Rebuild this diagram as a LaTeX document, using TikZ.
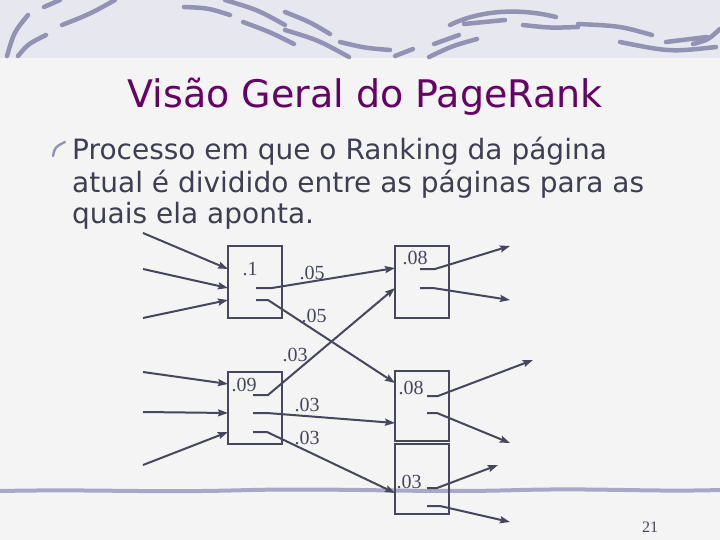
\documentclass[tikz,border=0pt]{standalone}
\usepackage{fontspec}
\setmainfont{Liberation Serif}
\newfontfamily\slidefont{DejaVu Sans}
\usepackage{tikz}
\usetikzlibrary{arrows.meta, positioning, calc}
\definecolor{titlepurple}{RGB}{102,0,102}
\definecolor{inkblue}{RGB}{70,70,92}
\definecolor{textslate}{RGB}{62,62,82}
\definecolor{bandlav}{RGB}{231,231,240}
\definecolor{swooshgray}{RGB}{146,146,178}
\definecolor{rulegray}{RGB}{168,168,198}
\definecolor{paper}{RGB}{244,244,245}

\begin{document}
\begin{tikzpicture}[
        x=1pt, y=-1pt,
        % --- Style Definitions ---
        node distance=54pt and 113pt,
        page_style/.style={rectangle, draw=inkblue, line width=2.2pt, minimum width=54pt, minimum height=72pt, inner sep=0pt, outer sep=0pt},
        num_style/.style={font=\fontsize{20}{20}\selectfont, text=inkblue, inner sep=0pt},
        title_style/.style={font=\slidefont\fontsize{38}{40}\selectfont, text=titlepurple, inner sep=0pt},
        body_style/.style={font=\slidefont\fontsize{28}{32}\selectfont, text=textslate, inner sep=0pt},
        link/.style={draw=inkblue, line width=2pt, -{Stealth[length=10pt, width=7pt, inset=1.5pt]}},
        swoosh_style/.style={draw=swooshgray, line width=4.5pt, line cap=round},
        rule_style/.style={draw=rulegray, line width=4pt, line cap=round}
    ]

        % --- Slide Background ---
        \fill[paper] (0,0) rectangle (720,540);
        \useasboundingbox (0,0) rectangle (720,540);
        \fill[bandlav] (0,0) rectangle (720,58);
        \draw[swoosh_style] (7,56) .. controls (14,32) .. (28,15)
            (18,56) .. controls (28,44) .. (46,35)
            (44,7) -- (60,0)
            (62,25) .. controls (90,14) .. (115,0)
            (184,7) .. controls (208,8) .. (230,15)
            (225,0) .. controls (258,10) .. (285,25)
            (243,22) .. controls (270,32) .. (294,44)
            (285,30) .. controls (318,40) .. (349,57)
            (285,12) .. controls (310,22) .. (330,34)
            (340,42) .. controls (365,48) .. (390,50)
            (395,56) -- (413,49)
            (429,57) .. controls (452,46) .. (477,39)
            (434,44) -- (459,35)
            (450,25) .. controls (480,10) and (520,8) .. (556,17)
            (464,24) -- (505,20)
            (523,25) .. controls (550,28) .. (578,27)
            (578,24) .. controls (620,26) .. (652,35)
            (620,42) .. controls (670,52) .. (716,47)
            (666,42) -- (707,37)
            (693,44) .. controls (708,40) .. (720,29);
        \draw[rule_style] (0,491) .. controls (100,489) and (150,493) .. (250,490)
            .. controls (350,488) and (420,493) .. (520,490)
            .. controls (600,488) and (650,492) .. (720,490);

        % --- Title and Bullet Text ---
        \node[title_style, anchor=base] (title) at (365,108) {Visão Geral do PageRank};
        \draw[swooshgray, line width=2.4pt, line cap=round] (53,156) .. controls (55,147) .. (65,142);
        \node[body_style, anchor=base west] (line_a) at (72,160) {Processo em que o Ranking da página};
        \node[body_style, anchor=base west] (line_b) at (72,193) {atual é dividido entre as páginas para as};
        \node[body_style, anchor=base west] (line_c) at (72,224) {quais ela aponta.};

        % --- Pages ---
        \node[page_style] (page_a) at (255,282) {};
        \node[page_style] (page_b) [right=of page_a] {};
        \node[page_style] (page_d) [below=of page_a] {};
        \node[page_style, minimum height=70pt] (page_c) [below=53pt of page_b] {};
        \node[page_style, minimum height=70pt] (page_e) [below=3pt of page_c] {};

        % --- Page Ranks ---
        \node[num_style] (rank_a) at ($(page_a.north west)+(22,23)$) {.1};
        \node[num_style] (rank_b) at ($(page_b.north west)+(20,12)$) {.08};
        \node[num_style] (rank_d) at ($(page_d.north west)+(16,13)$) {.09};
        \node[num_style] (rank_c) at ($(page_c.north west)+(16,17)$) {.08};
        \node[num_style] (rank_e) at ($(page_e.north west)+(14,38)$) {.03};

        % --- Loose Ends ---
        \coordinate (src_1) at (143,233);
        \coordinate (src_2) at (143,269);
        \coordinate (src_3) at (143,318);
        \coordinate (src_4) at (143,372);
        \coordinate (src_5) at (143,412);
        \coordinate (src_6) at (143,465);
        \coordinate (dst_1) at (510,246);
        \coordinate (dst_2) at (510,300);
        \coordinate (dst_3) at (533,360);
        \coordinate (dst_4) at (510,443);
        \coordinate (dst_5) at (498,465);
        \coordinate (dst_6) at (510,522);

        % --- Incoming Links ---
        \draw[link] (src_1) -- ($(page_a.north west)+(0,23)$);
        \draw[link] (src_2) -- ($(page_a.north west)+(0,42)$);
        \draw[link] (src_3) -- ($(page_a.north west)+(0,54)$);
        \draw[link] (src_4) -- ($(page_d.north west)+(0,12)$);
        \draw[link] (src_5) -- ($(page_d.north west)+(0,41)$);
        \draw[link] (src_6) -- ($(page_d.north west)+(0,60)$);

        % --- Rank Passing ---
        \draw[link] ($(page_a.north west)+(28,42)$) -- ++(16,0) -- ($(page_b.north west)+(0,22)$);
        \draw[link] ($(page_a.north west)+(28,54)$) -- ++(12,0) -- ($(page_c.north west)+(0,12)$);
        \draw[link] ($(page_d.north west)+(25,23)$) -- ++(15,0) -- ($(page_b.north west)+(0,42)$);
        \draw[link] ($(page_d.north west)+(25,41)$) -- ++(14,0) -- ($(page_c.north west)+(0,52)$);
        \draw[link] ($(page_d.north west)+(25,60)$) -- ++(14,0) -- ($(page_e.north west)+(0,49)$);
        \node[num_style] (share_a) at (312,273) {.05};
        \node[num_style] (share_b) at (314,316) {.05};
        \node[num_style] (share_c) at (295,355) {.03};
        \node[num_style] (share_d) at (307,405) {.03};
        \node[num_style] (share_e) at (307,438) {.03};

        % --- Outgoing Links ---
        \draw[link] ($(page_b.north west)+(25,23)$) -- ++(15,0) -- (dst_1);
        \draw[link] ($(page_b.north west)+(25,42)$) -- ++(13,0) -- (dst_2);
        \draw[link] ($(page_c.north west)+(32,25)$) -- ++(11,0) -- (dst_3);
        \draw[link] ($(page_c.north west)+(32,42)$) -- ++(10,0) -- (dst_4);
        \draw[link] ($(page_e.north west)+(32,44)$) -- ++(10,0) -- (dst_5);
        \draw[link] ($(page_e.north west)+(32,62)$) -- ++(13,0) -- (dst_6);

        % --- Slide Number ---
        \node[num_style, font=\fontsize{16}{16}\selectfont] (slide_no) at (650,527) {21};

    \end{tikzpicture}
\end{document}
